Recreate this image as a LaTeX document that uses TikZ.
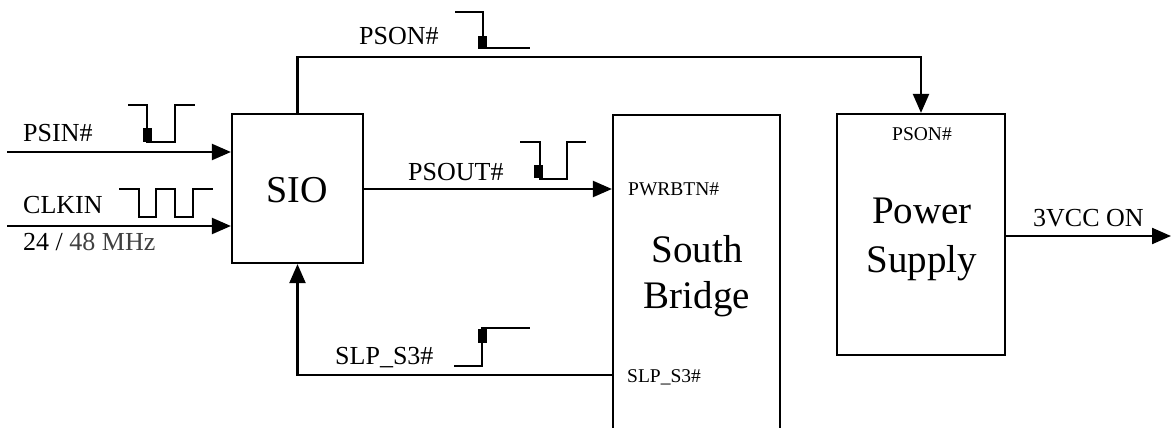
\documentclass[tikz,border=0pt]{standalone}
\usepackage{fontspec}
\setmainfont{Liberation Serif}
\usetikzlibrary{arrows.meta}
\begin{document}
\begin{tikzpicture}[x=1pt,y=-1pt,
  box/.style={draw,line width=2.2pt,inner sep=0pt},
  arr/.style={line width=2.2pt,-{Triangle[length=19pt,width=16pt]}},
  wave/.style={line width=2.2pt},
  mid/.style={inner sep=0pt,anchor=base west,font=\fontsize{26}{31}\selectfont},
  small/.style={inner sep=0pt,anchor=base west,font=\fontsize{19.5}{23}\selectfont},
  bigtext/.style={inner sep=0pt,anchor=base,font=\fontsize{39}{47}\selectfont}]
\useasboundingbox (0,0) rectangle (1171,428);
% boxes
\node[box,minimum width=131pt,minimum height=149pt] (sio) at (297.5,188.5) {};
\node[box,minimum width=167pt,minimum height=340pt] (sb) at (696.5,285) {};
\node[box,minimum width=168pt,minimum height=241pt] (ps) at (921,234.5) {};
% box texts
\node[bigtext,font=\fontsize{38}{46}\selectfont] (siot) at (297,202) {SIO};
\node[bigtext] (sbt1) at (697,262) {South};
\node[bigtext] (sbt2) at (697,308) {Bridge};
\node[bigtext] (pst1) at (922,223) {Power};
\node[bigtext] (pst2) at (922,272) {Supply};
\node[small] (pwrbtn) at (628,195) {PWRBTN\#};
\node[small] (slpin) at (627,382) {SLP\_S3\#};
\node[small] (psonin) at (892,140) {PSON\#};
% signal labels
\node[mid] (lpsin) at (23,141) {PSIN\#};
\node[mid] (lclk) at (23,213) {CLKIN};
\node[mid] (lfreq) at (23,250) {24 / {\color{black!75}48 MHz}};
\node[mid] (lpson) at (359,45) {PSON\#};
\node[mid] (lpsout) at (408,180) {PSOUT\#};
\node[mid] (lslp) at (335,364) {SLP\_S3\#};
\node[mid] (l3v) at (1033,226) {3VCC ON};
% connectors
\coordinate (psin) at (7,152);
\coordinate (clkin) at (7,226);
\coordinate (out3v) at (1171,236);
\draw[arr] (psin) -- (psin -| sio.west);
\draw[arr] (clkin) -- (clkin -| sio.west);
\draw[arr] (sio.east |- 0,189) -- (sb.west |- 0,189);
\draw[arr] (sio.north) -- ++(0,-56) -| (ps.north);
\draw[arr] (sb.west |- 0,375) -| (sio.south);
\draw[arr] (ps.east |- out3v) -- (out3v);
% waveforms
\draw[wave] (128,105) -- (147,105) -- (147,142) -- (175,142) -- (175,105) -- (195,105);
\fill (143,128) rectangle (152,142);
\draw[wave] (119,189) -- (139,189) -- (139,217) -- (156,217) -- (156,189) -- (175,189) -- (175,217) -- (193,217) -- (193,189) -- (213,189);
\draw[wave] (455,12) -- (483,12) -- (483,48) -- (530,48);
\fill (478,36) rectangle (487,49);
\draw[wave] (520,142) -- (540,142) -- (540,179) -- (567,179) -- (567,142) -- (586,142);
\fill (534,165) rectangle (543,178);
\draw[wave] (454,366) -- (482,366) -- (482,328) -- (530,328);
\fill (478,329) rectangle (487,343);
\end{tikzpicture}
\end{document}
